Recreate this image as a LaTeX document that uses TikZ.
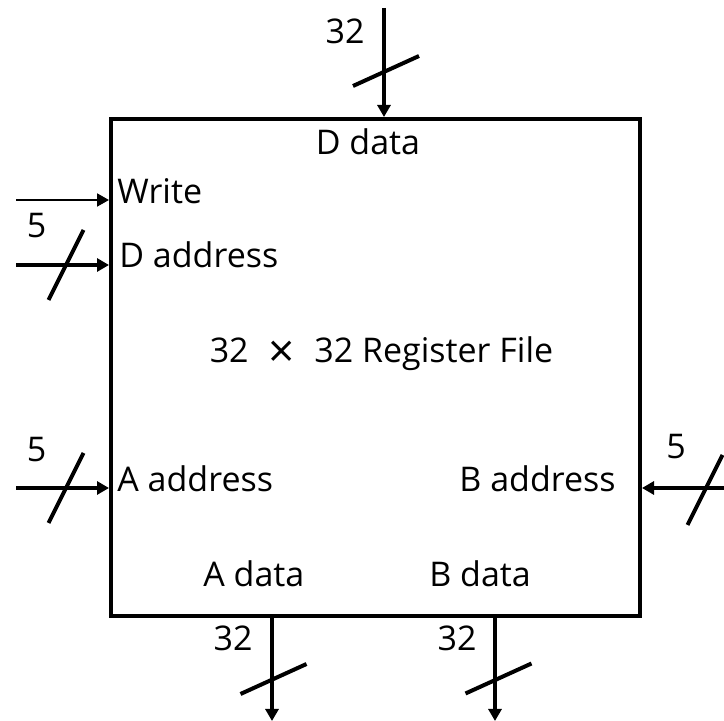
\documentclass[tikz,border=0pt]{standalone}
\usepackage{fontspec}
\setmainfont{Open Sans}
\usetikzlibrary{positioning}
\usetikzlibrary{arrows.meta}

\begin{document}
\begin{tikzpicture}[x=0.5pt, y=-0.5pt, font=\fontsize{17}{20}\selectfont,
        bus/.style={line width=2pt, -{Triangle[length=6pt, width=6.5pt]}},
        sig/.style={line width=1pt, -{Triangle[length=6pt, width=6.5pt]}},
        port/.style={inner sep=0pt},
        slash/.style={line width=2pt}]
        \useasboundingbox (0,0) rectangle (724,721);

        \node[draw, line width=2pt, minimum width=264.5pt, minimum height=248.5pt, inner sep=0pt] (regfile) at (375.5,367.5) {};
        \node[port, anchor=base] (title) at (381.5,363) {32 \hspace{0.32em}\raisebox{-2.2pt}{\fontsize{23}{20}\selectfont ×}\hspace{0.32em} 32 Register File};

        \node[port, anchor=base] (ddata) at (368,155) {D data};
        \node[port, anchor=base west] (write) at (117,204) {Write};
        \node[port, anchor=base west] (daddr) at (119,268) {D address};
        \node[port, anchor=base west] (aaddr) at (117,492) {A address};
        \node[port, anchor=base east] (baddr) at (616,492) {B address};
        \node[port, anchor=base west] (adata) at (203,587) {A data};
        \node[port, anchor=base west] (bdata) at (429,587) {B data};

        \coordinate (ddata_in) at (384,8);
        \coordinate (write_in) at (16,200);
        \coordinate (daddr_in) at (16,265);
        \coordinate (aaddr_in) at (16,488);
        \coordinate (baddr_in) at (726,488);
        \coordinate (adata_out) at (272,721);
        \coordinate (bdata_out) at (495,721);

        \draw[bus] (ddata_in) -- (ddata_in |- regfile.north);
        \draw[sig] (write_in) -- (write_in -| regfile.west);
        \draw[bus] (daddr_in) -- (daddr_in -| regfile.west);
        \draw[bus] (aaddr_in) -- (aaddr_in -| regfile.west);
        \draw[bus] (baddr_in) -- (baddr_in -| regfile.east);
        \draw[bus] (adata_out |- regfile.south) -- (adata_out);
        \draw[bus] (bdata_out |- regfile.south) -- (bdata_out);

        % bus width marks
        \foreach \cx/\cy in {66/265, 66/488, 705/490}
            \draw[slash] (\cx-17.5,\cy+35) -- (\cx+17.5,\cy-35);
        \foreach \cx/\cy in {386/71, 273.5/679, 498.5/678.5}
            \draw[slash] (\cx-33,\cy+15) -- (\cx+33,\cy-15);

        \node[port] (w_ddata) at (345,31) {32};
        \node[port] (w_daddr) at (36.5,226) {5};
        \node[port] (w_aaddr) at (36.5,450) {5};
        \node[port] (w_baddr) at (676,447) {5};
        \node[port] (w_adata) at (233,638) {32};
        \node[port] (w_bdata) at (457,638) {32};
    \end{tikzpicture}
\end{document}
